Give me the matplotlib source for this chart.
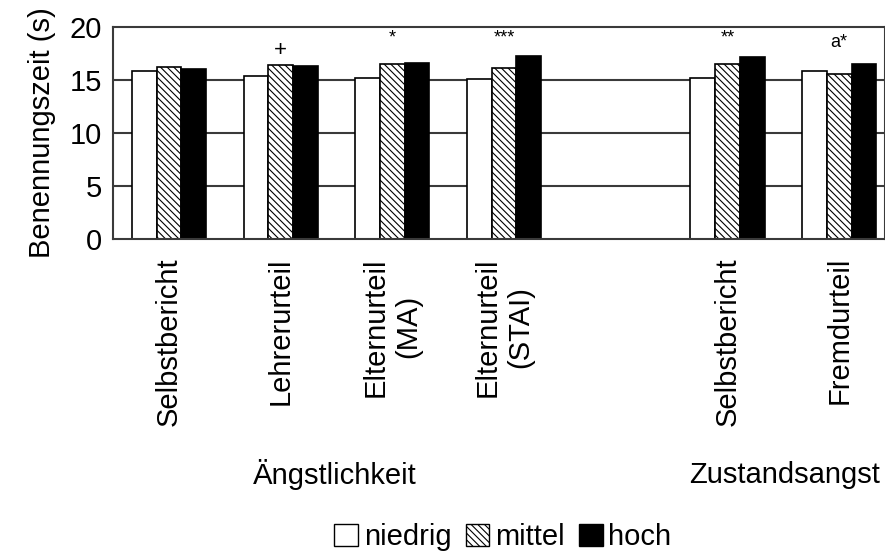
import numpy as np
import matplotlib
matplotlib.use("Agg")
import matplotlib.pyplot as plt
from matplotlib.patches import Patch

plt.rcParams['font.family'] = ['Liberation Sans', 'DejaVu Sans']
plt.rcParams['hatch.linewidth'] = 0.8

# data
categories = ["Selbstbericht", "Lehrerurteil", "Elternurteil\n(MA)", "Elternurteil\n(STAI)",
              "", "Selbstbericht", "Fremdurteil"]
niedrig = [15.85, 15.35, 15.2, 15.1, np.nan, 15.2, 15.85]
mittel = [16.2, 16.4, 16.5, 16.1, np.nan, 16.55, 15.6]
hoch = [16.0, 16.3, 16.65, 17.3, np.nan, 17.2, 16.55]
marks = ["", "+", "*", "***", "", "**", "a*"]
mark_y = [0, 17.8, 19.0, 19.0, 0, 19.0, 18.5]
groups = ["Ängstlichkeit", "Zustandsangst"]
series_names = ["niedrig", "mittel", "hoch"]

fig = plt.figure(figsize=(8.85, 5.54), dpi=100)
ax = fig.add_axes([113 / 885, 1 - 239 / 554, 1 - 113 / 885, (239 - 27) / 554])

x = np.arange(len(categories))
w = 0.221
gridc = "#3a3a3a"
hatch = "\\\\\\\\\\"
for yv in [5, 10, 15]:
    ax.axhline(yv, color=gridc, lw=1.5, zorder=0)

ax.bar(x - w, niedrig, w, color="white", edgecolor="black", lw=1.2, zorder=2)
ax.bar(x, mittel, w, color="white", edgecolor="black", hatch=hatch, lw=1.2, zorder=2)
ax.bar(x + w, hoch, w, color="black", edgecolor="black", lw=1.2, zorder=2)

for xi, m, my in zip(x, marks, mark_y):
    if m:
        fs = 16 if m == "+" else 13
        ax.text(xi, my, m, ha="center", va="center", fontsize=fs)

ax.set_ylim(0, 20)
ax.set_xlim(-0.5, 6.41)
ax.set_yticks([0, 5, 10, 15, 20])
ax.tick_params(axis="y", length=0, labelsize=21, pad=8)
ax.set_xticks(x)
ax.set_xticklabels(categories, rotation=90, fontsize=21, multialignment="center")
ax.tick_params(axis="x", length=0, pad=13)
for s in ax.spines.values():
    s.set_color(gridc)
    s.set_linewidth(1.5)
ax.set_ylabel("Benennungszeit (s)", fontsize=21, labelpad=10)

fig.text(335 / 885, 1 - 475 / 554, groups[0], ha="center", va="center", fontsize=21)
fig.text(785 / 885, 1 - 475 / 554, groups[1], ha="center", va="center", fontsize=21)

handles = [Patch(facecolor="white", edgecolor="black", lw=1),
           Patch(facecolor="white", edgecolor="black", hatch=hatch, lw=1),
           Patch(facecolor="black", edgecolor="black", lw=1)]
fig.legend(handles, series_names, loc="center", bbox_to_anchor=(503 / 885, 1 - 537 / 554),
           ncol=3, frameon=False, fontsize=21, handlelength=0.8, handleheight=0.8,
           handletextpad=0.2, columnspacing=0.5)

fig.savefig("out.png", dpi=100)
